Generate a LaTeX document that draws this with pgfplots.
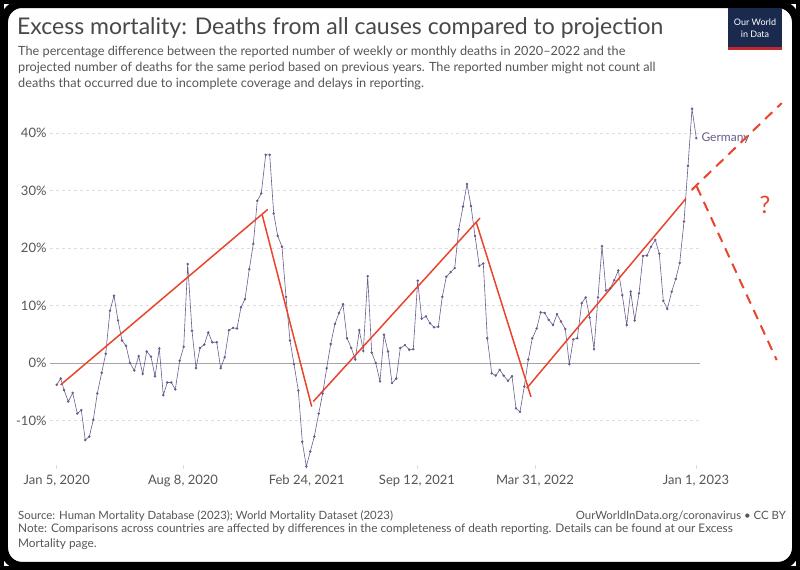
\documentclass[border=0pt]{standalone}
\usepackage{pgfplots}
\pgfplotsset{compat=1.18}
\usepackage{fontspec}
\setmainfont{Lato}
\definecolor{ln}{HTML}{6A5A8C}
\definecolor{rd}{HTML}{E8452C}
\definecolor{tx}{HTML}{555555}
\definecolor{gr}{HTML}{DDDDDD}
\definecolor{navy}{HTML}{1A2A4F}
\definecolor{owr}{HTML}{C1272D}
\newcommand{\fs}[1]{\fontsize{#1bp}{1.25\dimexpr#1bp\relax}\selectfont}
\begin{document}
\begin{tikzpicture}
\begin{axis}[scale only axis, width=650bp, height=365.1bp,
 xmin=50, xmax=700, ymin=-18.5, ymax=45, clip=false,
 axis line style={draw=none},
 xtick={56.7,183,306.7,417,535,696},
 xticklabels={{Jan 5, 2020},{Aug 8, 2020},{Feb 24, 2021},{Sep 12, 2021},{Mar 31, 2022},{Jan 1, 2023}},
 xticklabel style={text=tx,font=\fs{13}, yshift=-2bp},
 major tick length=4bp, xtick style={gr,thick}, ytick style={draw=none},
 ytick={-10,0,10,20,30,40}, yticklabels={-10\%,0\%,10\%,20\%,30\%,40\%},
 yticklabel style={text=tx,font=\fs{13}},
 /pgf/number format/assume math mode=true,
 ymajorgrids, grid style={gr,dashed},
 xtick pos=bottom,
]
\addplot[gray!70, thin, forget plot] coordinates {(50,0) (700,0)};
\addplot[ln, semithick, mark=*, mark size=0.9bp] coordinates {
(56.7,-3.8)(60.7,-2.7)(64,-4.7)(68.3,-6.7)(72.7,-5.2)(77.3,-8.8)(81.3,-8.2)(85.3,-13.4)(89.3,-12.8)(93.3,-9.9)(97.3,-5.3)(101.7,-1.7)(105.7,1.6)(110,9.1)(114,11.7)(118,7.4)(122,3.9)(126,3.0)(130,0)(134.3,-1.3)(138.7,1.2)(142.7,-1.9)(146.7,2.0)(151,1.1)(155,-2.3)(159.3,2.5)(163.3,-5.6)(167.3,-3.4)(171.3,-3.4)(175.3,-4.6)(179.7,0.4)(183.7,2.8)(187.7,17.2)(192,5.6)(196,-0.9)(200,2.6)(204.3,3.2)(208.3,5.3)(212.3,3.6)(216.7,3.6)(220.7,-0.9)(224.7,1.0)(229,5.7)(233,6.1)(237,6.0)(241,9.7)(245,11.1)(249.3,16.3)(253.3,20.7)(257.3,28.2)(261.3,29.5)(265.7,36.2)(269.7,36.2)(273.7,26.0)(277.7,22.1)(282,20.2)(286,11.5)(290,3.9)(294,-0.2)(298.3,-4.8)(302.3,-13.7)(306.3,-18.0)(310.3,-15.4)(314.3,-12.8)(318.7,-8.8)(322.7,-5.3)(326.7,-0.9)(330.7,3.3)(335,6.8)(339,8.7)(343,10.2)(347,4.3)(351.3,2.6)(355.3,0.6)(359.3,5.7)(363.3,2.1)(367.7,15.1)(371.7,1.8)(375.7,0)(380,-3.2)(384,4.9)(388,2.0)(392,-3.5)(396.3,-2.7)(400.3,2.6)(405,3.1)(409.3,2.3)(413.3,2.4)(417.7,14.3)(421.7,7.7)(426,8.1)(430,6.9)(434,6.2)(438.3,6.3)(442.3,11.5)(446.3,15.0)(450.7,15.8)(454.7,16.5)(458.7,23.2)(463,27.2)(467,31.1)(471,27.3)(475,22.1)(479.3,16.9)(483.3,17.3)(487.3,4.3)(491.7,-1.8)(495.7,-2.2)(499.7,-1.2)(503.7,-2.2)(508,-3.1)(512,-2.3)(516,-7.9)(520,-8.5)(524.3,-4.1)(528.3,0.6)(532.3,4.3)(536.7,6.0)(540.7,8.8)(544.7,8.7)(548.7,7.5)(553,6.6)(557,8.5)(561,7.2)(565.3,5.9)(569.3,-0.2)(573.3,4.1)(577.3,4.3)(581.7,10.4)(585.7,11.4)(589.7,7.9)(594,2.4)(598,11.4)(602,20.3)(606,12.6)(610.3,13.0)(614.3,14.4)(618.3,16.1)(622.3,11.8)(626.7,6.6)(630.7,12.4)(634.7,7.4)(639,12.1)(643,18.6)(647,18.7)(651,20.2)(655.3,21.4)(659.3,19.0)(663.3,10.8)(667.3,9.4)(671.7,12.4)(675.7,14.6)(679.7,17.4)(684,24.6)(688,34.3)(692,44.2)(696.3,39.1)};
\node[anchor=west, text=ln, font=\fs{12}] at (axis cs:698,39.1) {Germany};
\addplot[rd, line width=1.5bp] coordinates {(60.7,-3.8)(267.7,26.7)};
\addplot[rd, line width=1.5bp] coordinates {(262.3,25.7)(311.7,-7.6)};
\addplot[rd, line width=1.5bp] coordinates {(313.3,-6.7)(480,25.2)};
\addplot[rd, line width=1.5bp] coordinates {(476,24.6)(531,-5.9)};
\addplot[rd, line width=1.5bp] coordinates {(526.7,-4.4)(686,28.6)};
\addplot[rd, line width=2bp, dash pattern=on 10bp off 7bp] coordinates {(691.7,30.1)(781.7,45.2)};
\addplot[rd, line width=2bp, dash pattern=on 10bp off 7bp] coordinates {(696.7,30.7)(776.7,0.5)};
\node[text=rd, font=\fs{24}] at (axis cs:765,27.5) {?};
\draw[black, line width=8bp, rounded corners=18bp] (axis cs:4,62.43) rectangle (axis cs:796,-35.3);
\draw[black, line width=4bp] (axis cs:2,62.78) rectangle (axis cs:798,-35.65);
\node[anchor=west, text=tx!85!black, font=\fs{23}, inner sep=0pt] at (axis cs:17,58.3) {Excess mortality: Deaths from all causes compared to projection};
\node[anchor=north west, text=tx, font=\fs{12.7}, align=left, inner sep=0pt] at (axis cs:18,55.1) {The percentage difference between the reported number of weekly or monthly deaths in 2020--2022 and the\\projected number of deaths for the same period based on previous years. The reported number might not count all\\deaths that occurred due to incomplete coverage and delays in reporting.};
\node[anchor=west, text=tx, font=\fs{11.4}, inner sep=0pt] at (axis cs:18,-26.6) {Source: Human Mortality Database (2023); World Mortality Dataset (2023)};
\node[anchor=east, text=tx, font=\fs{11.4}, inner sep=0pt] at (axis cs:786,-26.6) {OurWorldInData.org/coronavirus • CC BY};
\node[anchor=north west, text=tx, font=\fs{11.8}, align=left, inner sep=0pt] at (axis cs:18,-27.9) {Note: Comparisons across countries are affected by differences in the completeness of death reporting. Details can be found at our Excess\\Mortality page.};
\fill[navy] (axis cs:728,61.7) rectangle (axis cs:782,54.4);
\fill[owr] (axis cs:728,55.0) rectangle (axis cs:782,54.4);
\node[text=white, font=\fs{9}, align=center, inner sep=0pt] at (axis cs:755,58.2) {Our World\\in Data};
\end{axis}
\end{tikzpicture}
\end{document}
